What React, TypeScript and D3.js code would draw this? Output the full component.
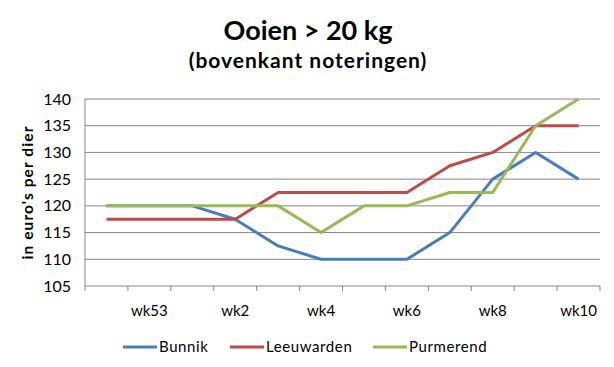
import React, { useEffect, useRef } from 'react';
import * as d3 from 'd3';

const weeks = ['wk52', 'wk53', 'wk1', 'wk2', 'wk3', 'wk4', 'wk5', 'wk6', 'wk7', 'wk8', 'wk9', 'wk10'];
const bunnik = [120, 120, 120, 117.5, 112.5, 110, 110, 110, 115, 125, 130, 125];
const leeuwarden = [117.5, 117.5, 117.5, 117.5, 122.5, 122.5, 122.5, 122.5, 127.5, 130, 135, 135];
const purmerend = [120, 120, 120, 120, 120, 115, 120, 120, 122.5, 122.5, 135, 140];
const yTicks = [105, 110, 115, 120, 125, 130, 135, 140];

const series = [
  { name: 'Bunnik', values: bunnik, color: '#4a7ebb' },
  { name: 'Leeuwarden', values: leeuwarden, color: '#be4b48' },
  { name: 'Purmerend', values: purmerend, color: '#98b954' },
];

const W = 614;
const H = 367;
const font = 'Lato, "Open Sans", sans-serif';

const App: React.FC = () => {
  const svgRef = useRef<SVGSVGElement>(null);

  useEffect(() => {
    if (!svgRef.current) return;
    const svg = d3.select(svgRef.current);
    svg.selectAll('*').remove();

    const margin = { top: 99, right: 14, bottom: 81, left: 85 };
    const innerW = W - margin.left - margin.right;
    const innerH = H - margin.top - margin.bottom;

    svg.append('rect').attr('width', W).attr('height', H).attr('fill', '#fff');

    // titles
    svg.append('text')
      .attr('x', 308).attr('y', 40)
      .attr('text-anchor', 'middle')
      .attr('font-family', font).attr('font-weight', 'bold').attr('font-size', 27)
      .attr('fill', '#000')
      .text('Ooien > 20 kg');
    svg.append('text')
      .attr('x', 308).attr('y', 68)
      .attr('text-anchor', 'middle')
      .attr('font-family', font).attr('font-weight', 'bold').attr('font-size', 21)
      .attr('letter-spacing', 1)
      .attr('fill', '#000')
      .text('(bovenkant noteringen)');

    const g = svg.append('g').attr('transform', `translate(${margin.left},${margin.top})`);

    const x = d3.scaleBand().domain(weeks).range([0, innerW]);
    const y = d3.scaleLinear().domain([105, 140]).range([innerH, 0]);

    // gridlines
    yTicks.forEach(t => {
      g.append('line')
        .attr('x1', 0).attr('x2', innerW)
        .attr('y1', y(t)).attr('y2', y(t))
        .attr('stroke', '#868686').attr('stroke-width', 1);
      g.append('text')
        .attr('x', -14).attr('y', y(t)).attr('dy', '0.35em')
        .attr('text-anchor', 'end')
        .attr('font-family', font).attr('font-size', 16)
        .attr('fill', '#000')
        .text(t);
    });

    // axes lines
    g.append('line')
      .attr('x1', 0).attr('x2', 0).attr('y1', 0).attr('y2', innerH)
      .attr('stroke', '#868686');
    weeks.forEach((w, i) => {
      const bx = x(w)!;
      g.append('line')
        .attr('x1', bx).attr('x2', bx).attr('y1', innerH).attr('y2', innerH + 5)
        .attr('stroke', '#868686');
      if (i % 2 === 1) {
        g.append('text')
          .attr('x', bx + x.bandwidth() / 2).attr('y', innerH + 30)
          .attr('text-anchor', 'middle')
          .attr('font-family', font).attr('font-size', 15)
          .attr('fill', '#000')
          .text(w);
      }
    });
    g.append('line')
      .attr('x1', innerW).attr('x2', innerW).attr('y1', innerH).attr('y2', innerH + 5)
      .attr('stroke', '#868686');

    // y axis title
    svg.append('text')
      .attr('transform', `translate(33,${margin.top + innerH / 2}) rotate(-90)`)
      .attr('text-anchor', 'middle')
      .attr('font-family', font).attr('font-weight', 'bold').attr('font-size', 15.5)
      .attr('letter-spacing', 1.1)
      .attr('fill', '#000')
      .text("in euro's per dier");

    const line = d3.line<number>()
      .x((_, i) => x(weeks[i])! + x.bandwidth() / 2)
      .y(d => y(d));

    series.forEach(s => {
      g.append('path')
        .datum(s.values)
        .attr('fill', 'none')
        .attr('stroke', s.color)
        .attr('stroke-width', 3)
        .attr('stroke-linejoin', 'round')
        .attr('d', line);
    });

    // legend
    const legendX = [123, 230, 373];
    series.forEach((s, i) => {
      const lg = svg.append('g').attr('transform', `translate(${legendX[i]},347)`);
      lg.append('line')
        .attr('x1', 0).attr('x2', 34).attr('y1', 0).attr('y2', 0)
        .attr('stroke', s.color).attr('stroke-width', 3);
      lg.append('text')
        .attr('x', 36).attr('y', 0).attr('dy', '0.35em')
        .attr('font-family', font).attr('font-size', 15)
        .attr('letter-spacing', 0.6)
        .attr('fill', '#000')
        .text(s.name);
    });
  }, []);

  return (
    <svg ref={svgRef} width={W} height={H}
      style={{ position: 'absolute', left: 0, top: 0 }} />
  );
};

export default App;
